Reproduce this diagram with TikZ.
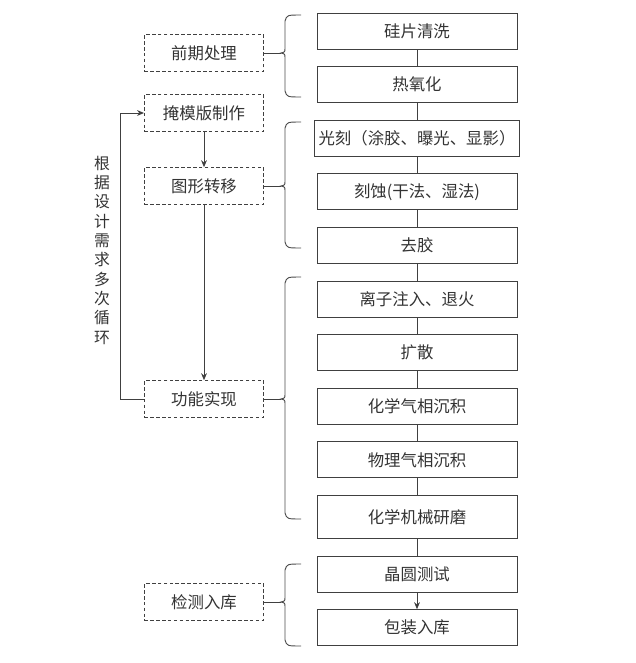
\documentclass[tikz,border=0pt]{standalone}
\usepackage{fontspec}
\setmainfont{Noto Sans CJK SC}
\usetikzlibrary{positioning,arrows.meta}

\begin{document}
\begin{tikzpicture}[%
    x=0.03cm,
    y=-0.03cm,
    >={Stealth[length=6pt,width=5pt]},
    line width=0.8pt,
    node distance=0.5cm,
    procbox/.style={%
      rectangle,
      minimum width=6cm,
      minimum height=1.08cm,
      draw=black!75,
      text=black!80,
      font=\fontsize{14}{16}\selectfont
    },
    stagebox/.style={%
      rectangle,
      minimum width=3.57cm,
      minimum height=1.1cm,
      draw=black!75,
      dash pattern=on 3pt off 2pt,
      text=black!80,
      font=\fontsize{14}{16}\selectfont
    },
    link/.style={draw=black!75},
    bracket/.style={draw=black!70}
  ]
    \useasboundingbox (0,0) rectangle (635,663);

    % process steps
    \node[procbox] (p1) at (417,31) {硅片清洗};
    \node[procbox] (p2) [below=of p1] {热氧化};
    \node[procbox] (p3) [below=of p2] {光刻（涂胶、曝光、显影）};
    \node[procbox] (p4) [below=of p3] {刻蚀(干法、湿法)};
    \node[procbox] (p5) [below=of p4] {去胶};
    \node[procbox] (p6) [below=of p5] {离子注入、退火};
    \node[procbox] (p7) [below=of p6] {扩散};
    \node[procbox] (p8) [below=of p7] {化学气相沉积};
    \node[procbox] (p9) [below=of p8] {物理气相沉积};
    \node[procbox, minimum height=1.29cm] (p10) [below=of p9] {化学机械研磨};
    \node[procbox] (p11) [below=of p10] {晶圆测试};
    \node[procbox] (p12) [below=of p11] {包装入库};

    % stages
    \node[stagebox] (s1) at (204,53) {前期处理};
    \node[stagebox] (s2) at (204,113) {掩模版制作};
    \node[stagebox] (s3) at (204,186) {图形转移};
    \node[stagebox] (s4) at (204,399) {功能实现};
    \node[stagebox] (s5) at (204,602) {检测入库};

    \node[align=center, text=black!80, font=\fontsize{13.5}{16.5}\selectfont] (loop) at (102,250)
      {根\\据\\设\\计\\需\\求\\多\\次\\循\\环};

    \path[link] (p1) edge (p2)
          (p2) edge (p3)
          (p3) edge (p4)
          (p4) edge (p5)
          (p5) edge (p6)
          (p6) edge (p7)
          (p7) edge (p8)
          (p8) edge (p9)
          (p9) edge (p10)
          (p10) edge (p11)
          (p11) edge[->] (p12);

    \draw[link, ->] (s2) -- (s3);
    \draw[link, ->] (s3) -- (s4);
    \draw[link, ->] (s4.west) -- ++(-24,0) |- (s2.west);

    % braces
    \coordinate (b1) at (281,53);
    \coordinate (b2) at (281,186);
    \coordinate (b3) at (281,399);
    \coordinate (b4) at (281,602);
    \draw[link] (s1.east) -- (b1);
    \draw[link] (s3.east) -- (b2);
    \draw[link] (s4.east) -- (b3);
    \draw[link] (s5.east) -- (b4);
    \draw[bracket] (301,15) .. controls (287,15) .. (285,21) -- (285,48)
      .. controls (285,52) .. (b1) .. controls (285,54) .. (285,58)
      -- (285,91) .. controls (287,97) .. (301,97);
    \draw[bracket] (301,122) .. controls (287,122) .. (285,128) -- (285,181)
      .. controls (285,185) .. (b2) .. controls (285,187) .. (285,191)
      -- (285,242) .. controls (287,248) .. (301,248);
    \draw[bracket] (301,277) .. controls (287,277) .. (285,283) -- (285,394)
      .. controls (285,398) .. (b3) .. controls (285,400) .. (285,404)
      -- (285,513) .. controls (287,519) .. (301,519);
    \draw[bracket] (301,564) .. controls (287,564) .. (285,570) -- (285,597)
      .. controls (285,601) .. (b4) .. controls (285,603) .. (285,607)
      -- (285,640) .. controls (287,646) .. (301,646);
\end{tikzpicture}
\end{document}
